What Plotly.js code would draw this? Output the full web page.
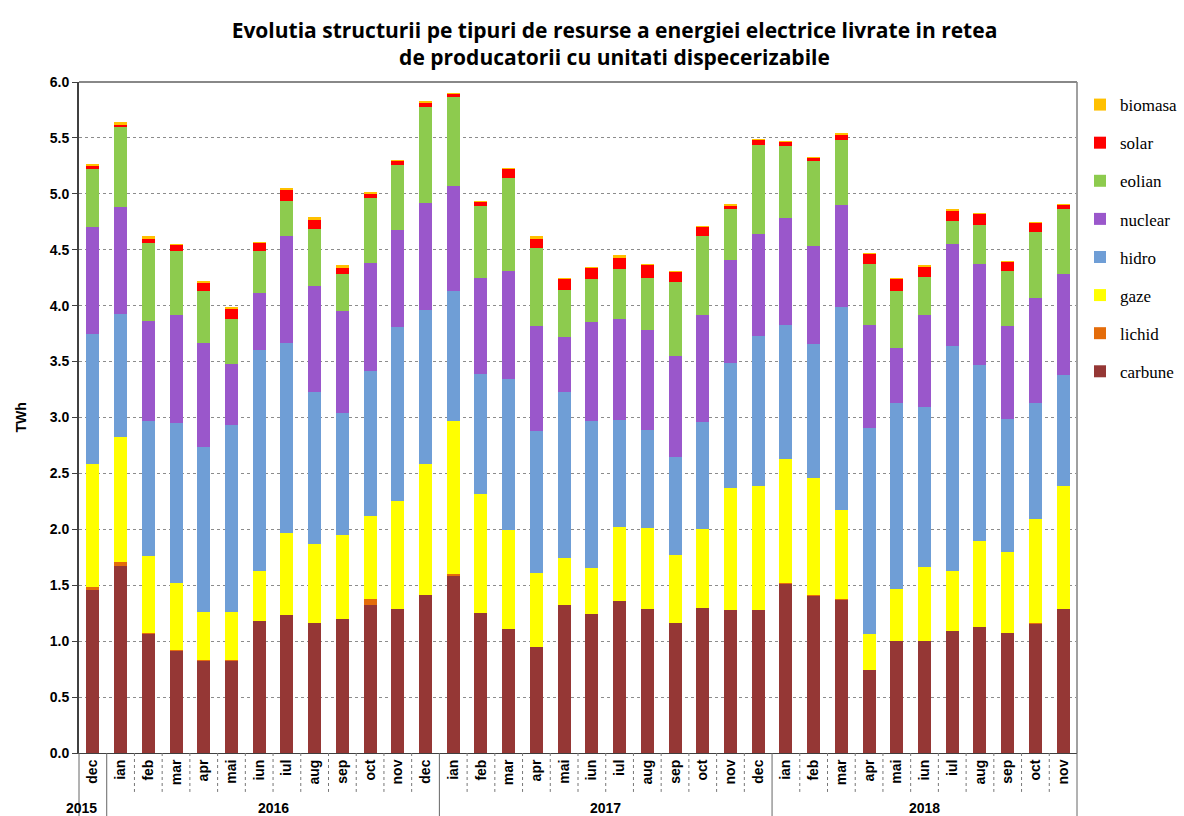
<!DOCTYPE html>
<html>
<head>
<meta charset="utf-8">
<script src="https://cdn.plot.ly/plotly-3.0.1.min.js"></script>
<style>html,body{margin:0;padding:0;background:#fff}#chart{width:1184px;height:816px}</style>
</head>
<body>
<div id="chart"></div>
<script>
// Month labels and year groups
const months = ["dec","ian","feb","mar","apr","mai","iun","iul","aug","sep","oct","nov","dec",
  "ian","feb","mar","apr","mai","iun","iul","aug","sep","oct","nov","dec",
  "ian","feb","mar","apr","mai","iun","iul","aug","sep","oct","nov"];
const years = ["2015","2016","2016","2016","2016","2016","2016","2016","2016","2016","2016","2016","2016",
  "2017","2017","2017","2017","2017","2017","2017","2017","2017","2017","2017","2017",
  "2018","2018","2018","2018","2018","2018","2018","2018","2018","2018","2018"];

// Series values (TWh)
const carbune = [1.46,1.67,1.06,0.91,0.82,0.82,1.18,1.23,1.16,1.20,1.32,1.29,1.41,
  1.58,1.25,1.11,0.95,1.32,1.24,1.36,1.29,1.16,1.30,1.28,1.28,
  1.51,1.40,1.37,0.74,1.00,1.00,1.09,1.13,1.07,1.15,1.29];
const lichid = [0.02,0.04,0.01,0.01,0.01,0.01,0.00,0.00,0.00,0.00,0.06,0.00,0.00,
  0.02,0.00,0.00,0.00,0.00,0.00,0.00,0.00,0.00,0.00,0.00,0.00,
  0.01,0.01,0.01,0.00,0.00,0.00,0.00,0.00,0.00,0.01,0.00];
const gaze = [1.10,1.12,0.69,0.60,0.43,0.43,0.45,0.74,0.71,0.75,0.74,0.96,1.17,
  1.37,1.07,0.88,0.66,0.42,0.41,0.66,0.72,0.61,0.70,1.09,1.11,
  1.11,1.05,0.79,0.32,0.47,0.66,0.54,0.77,0.73,0.93,1.10];
const hidro = [1.17,1.10,1.21,1.43,1.48,1.67,1.97,1.70,1.36,1.09,1.30,1.56,1.38,
  1.16,1.07,1.35,1.27,1.49,1.32,0.96,0.88,0.88,0.96,1.12,1.34,
  1.20,1.20,1.82,1.85,1.66,1.43,2.01,1.57,1.19,1.04,0.99];
const nuclear = [0.95,0.95,0.89,0.97,0.93,0.55,0.51,0.95,0.95,0.91,0.96,0.87,0.96,
  0.94,0.86,0.97,0.94,0.49,0.88,0.90,0.89,0.90,0.96,0.92,0.91,
  0.95,0.87,0.91,0.92,0.49,0.83,0.91,0.90,0.83,0.94,0.90];
const eolian = [0.52,0.72,0.70,0.57,0.46,0.40,0.38,0.32,0.51,0.33,0.58,0.58,0.86,
  0.80,0.64,0.83,0.70,0.42,0.39,0.45,0.47,0.66,0.70,0.45,0.80,
  0.65,0.76,0.58,0.54,0.51,0.34,0.21,0.35,0.49,0.59,0.58];
const solar = [0.03,0.02,0.04,0.05,0.07,0.09,0.07,0.09,0.08,0.06,0.04,0.03,0.03,
  0.02,0.04,0.08,0.08,0.10,0.10,0.10,0.11,0.09,0.08,0.03,0.04,
  0.03,0.03,0.05,0.09,0.11,0.09,0.09,0.10,0.08,0.08,0.04];
const biomasa = [0.02,0.02,0.02,0.01,0.02,0.02,0.01,0.02,0.02,0.02,0.02,0.01,0.02,
  0.01,0.01,0.01,0.02,0.01,0.01,0.02,0.01,0.01,0.01,0.02,0.01,
  0.01,0.01,0.01,0.01,0.01,0.01,0.01,0.01,0.01,0.01,0.01];

const seriesNames = ["carbune","lichid","gaze","hidro","nuclear","eolian","solar","biomasa"];
const seriesData = [carbune,lichid,gaze,hidro,nuclear,eolian,solar,biomasa];
const seriesColors = ["#953735","#E46C0A","#FFFF00","#6F9ED6","#9A57CB","#8DCB4E","#FF0000","#FFC000"];

const idx = months.map((m,i)=>i);

const traces = seriesNames.map((n,k)=>({
  type:'bar', name:n, x:idx, y:seriesData[k], width:0.47,
  legendgroup:n, legendrank:seriesNames.length-k,
  marker:{color:seriesColors[k], line:{width:0}},
  hovertemplate:'%{y:.2f} TWh<extra>'+n+'</extra>'
}));

// Year labels centred over their groups
const yearList = [...new Set(years)];
const annotations = yearList.map(y=>{
  const pos = idx.filter(i=>years[i]===y);
  const c = (pos[0]+pos[pos.length-1])/2;
  return {x:(y==="2015"? c-0.4 : c), xref:'x', y:-0.082, yref:'paper', yanchor:'middle', xanchor:'center',
    text:y, showarrow:false, font:{family:'Liberation Sans, Arial', size:14, color:'#000', weight:'bold'}};
});
annotations.push({x:-0.059, xref:'paper', xanchor:'center', y:0.5, yref:'paper', yanchor:'middle', text:'TWh', textangle:-90, showarrow:false,
  font:{family:'Liberation Sans, Arial', size:14, color:'#000', weight:'bold'}});

// Category divider lines below the axis
const shapes = [];
const n = months.length;
for (let i=0;i<=n;i++){
  const xp = i/n;
  const isYear = (i===0 || i===n || years[i]!==years[i-1]);
  shapes.push({type:'line', xref:'paper', yref:'paper', x0:xp, x1:xp, y0:0, y1:isYear? -0.094 : -0.058,
    line:{color:isYear?'#666':'#777', width:1, dash:isYear?'solid':'dot'}});
}

const layout = {
  width:1184, height:816,
  margin:{l:79, r:107, t:82, b:63, autoexpand:false},
  paper_bgcolor:'#fff', plot_bgcolor:'#fff',
  barmode:'stack',
  title:{text:'Evolutia structurii pe tipuri de resurse a energiei electrice livrate in retea<br>de producatorii cu unitati dispecerizabile',
    x:0.519, xanchor:'center', y:0.954, yanchor:'top',
    font:{family:'Open Sans, sans-serif', size:21, color:'#000', weight:'bold'}},
  xaxis:{range:[-0.5, n-0.5], tickmode:'array', tickvals:idx, ticktext:months, tickangle:-90,
    tickfont:{family:'Liberation Sans, Arial', size:14, color:'#000', weight:'bold'},
    showgrid:false, showline:true, linecolor:'#404040', linewidth:1, ticks:'', zeroline:false, fixedrange:true},
  yaxis:{range:[0,6], dtick:0.5, tickformat:'.1f',
    tickfont:{family:'Liberation Sans, Arial', size:14, color:'#000', weight:'bold'},
    showgrid:true, gridcolor:'#8c8c8c', griddash:'dot', gridwidth:1,
    showline:true, linecolor:'#404040', linewidth:2, ticks:'outside', ticklen:5, tickcolor:'#404040',
    zeroline:false, fixedrange:true},
  legend:{x:1.003, xanchor:'left', y:0.9925, yanchor:'top', traceorder:'grouped', tracegroupgap:13,
    font:{family:'Liberation Serif, Times New Roman, serif', size:17, color:'#000'}, bgcolor:'rgba(0,0,0,0)'},
  annotations:annotations,
  shapes:shapes.concat([
    {type:'line', xref:'paper', yref:'paper', x0:1, x1:1, y0:0, y1:1, line:{color:'#a0a0a0', width:2}},
    {type:'line', xref:'paper', yref:'paper', x0:0, x1:1, y0:1, y1:1, line:{color:'#888', width:2}}
  ]),
  showlegend:true
};

Plotly.newPlot('chart', traces, layout, {displayModeBar:false, staticPlot:true});
</script>
</body>
</html>
